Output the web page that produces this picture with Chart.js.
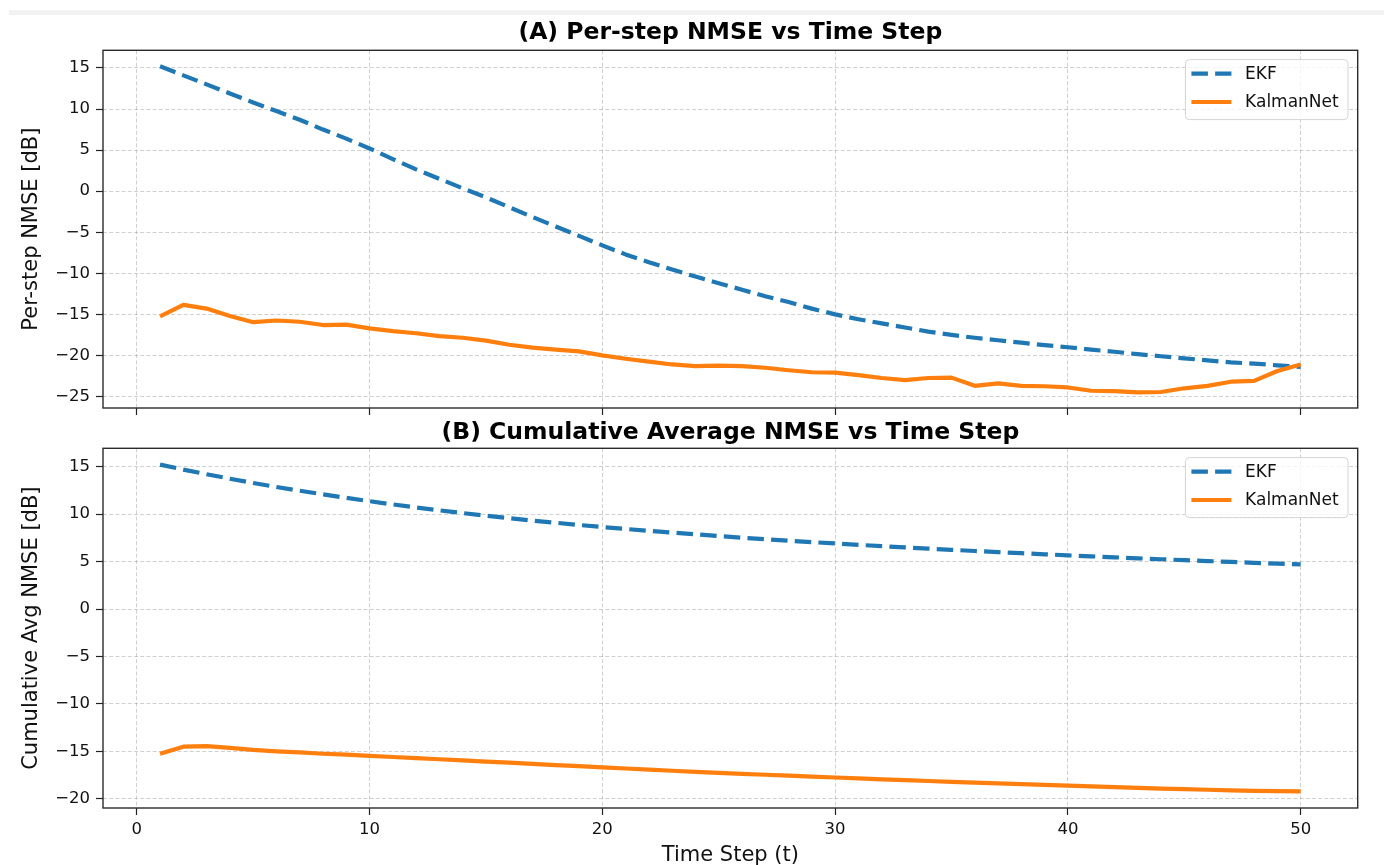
<!DOCTYPE html>
<html>
<head>
<meta charset="utf-8">
<title>NMSE vs Time Step</title>
<script src="https://cdn.jsdelivr.net/npm/chart.js@4.4.1/dist/chart.umd.min.js"></script>
<style>
    html, body { margin: 0; padding: 0; background: #fff; overflow: hidden; }
    body { width: 1384px; height: 865px; position: relative; }
    .faixa { position: absolute; left: 9px; right: 0; top: 10px; height: 5px; background: #f2f2f2; }
    .caixa { position: absolute; left: 0; width: 1384px; }
    #caixaA { top: 0; height: 428px; }
    #caixaB { top: 405px; height: 470px; }
</style>
</head>
<body>
<div class="faixa"></div>
<div class="caixa" id="caixaA"><canvas id="graficoA"></canvas></div>
<div class="caixa" id="caixaB"><canvas id="graficoB"></canvas></div>

<script>
// ==========================
// DADOS
// ==========================
const timeSteps = [
    1, 2, 3, 4, 5, 6, 7, 8, 9, 10,
    11, 12, 13, 14, 15, 16, 17, 18, 19, 20,
    21, 22, 23, 24, 25, 26, 27, 28, 29, 30,
    31, 32, 33, 34, 35, 36, 37, 38, 39, 40,
    41, 42, 43, 44, 45, 46, 47, 48, 49, 50
];

// (A) NMSE por passo [dB]
const ekfPerStep = [
    15.2, 14.1, 13.0, 11.9, 10.8, 9.75, 8.7, 7.5, 6.4, 5.2,
    3.9, 2.65, 1.5, 0.35, -0.75, -1.95, -3.15, -4.3, -5.45, -6.6,
    -7.7, -8.65, -9.55, -10.4, -11.2, -12.0, -12.8, -13.5, -14.3, -15.0,
    -15.6, -16.1, -16.6, -17.1, -17.5, -17.85, -18.15, -18.45, -18.75, -19.0,
    -19.3, -19.55, -19.85, -20.1, -20.35, -20.6, -20.85, -21.0, -21.2, -21.4
];
const kalmanPerStep = [
    -15.24, -13.85, -14.3, -15.2, -15.95, -15.75, -15.9, -16.3, -16.25, -16.7,
    -17.05, -17.3, -17.65, -17.85, -18.2, -18.7, -19.05, -19.3, -19.5, -20.0,
    -20.4, -20.75, -21.1, -21.3, -21.25, -21.3, -21.5, -21.8, -22.05, -22.1,
    -22.4, -22.75, -23.0, -22.75, -22.7, -23.7, -23.4, -23.7, -23.75, -23.9,
    -24.3, -24.35, -24.5, -24.45, -24.0, -23.7, -23.2, -23.1, -21.9, -21.1
];

// (B) NMSE médio acumulado [dB]
const ekfCumAvg = [
    15.2, 14.68, 14.19, 13.72, 13.27, 12.85, 12.45, 12.07, 11.70, 11.35,
    11.01, 10.69, 10.39, 10.10, 9.82, 9.56, 9.31, 9.08, 8.85, 8.63,
    8.43, 8.23, 8.04, 7.86, 7.68, 7.51, 7.35, 7.19, 7.04, 6.90,
    6.76, 6.62, 6.49, 6.36, 6.23, 6.11, 5.99, 5.88, 5.76, 5.65,
    5.55, 5.44, 5.34, 5.24, 5.14, 5.05, 4.96, 4.86, 4.78, 4.69
];
const kalmanCumAvg = [
    -15.24, -14.49, -14.43, -14.61, -14.84, -14.98, -15.10, -15.24, -15.34, -15.46,
    -15.58, -15.70, -15.82, -15.94, -16.06, -16.18, -16.31, -16.43, -16.55, -16.67,
    -16.79, -16.91, -17.03, -17.14, -17.25, -17.35, -17.45, -17.55, -17.65, -17.74,
    -17.84, -17.93, -18.02, -18.11, -18.19, -18.28, -18.36, -18.44, -18.52, -18.60,
    -18.67, -18.75, -18.83, -18.90, -18.97, -19.03, -19.09, -19.14, -19.18, -19.21
];

// ticks
const ticksX = [0, 10, 20, 30, 40, 50];
const ticksYA = [-25, -20, -15, -10, -5, 0, 5, 10, 15];
const ticksYB = [-20, -15, -10, -5, 0, 5, 10, 15];

const COR_EKF = '#1f77b4';
const COR_KALMAN = '#ff7f0e';
const COR_GRADE = 'rgba(150,150,150,0.45)';

Chart.defaults.font.family = '"DejaVu Sans", sans-serif';
Chart.defaults.color = '#111';

// moldura do eixo + legenda estilo matplotlib
const molduraLegenda = {
    id: 'molduraLegenda',
    afterDatasetsDraw(chart) {
        const ctx = chart.ctx;
        const area = chart.chartArea;

        ctx.save();
        ctx.strokeStyle = '#2b2b2b';
        ctx.lineWidth = 1.4;
        ctx.strokeRect(area.left, area.top, area.right - area.left, area.bottom - area.top);

        ctx.font = '17px "DejaVu Sans"';
        const larguraTexto = Math.max(...chart.data.datasets.map(d => ctx.measureText(d.label).width));
        const largura = 60 + larguraTexto + 9;
        const altura = 60;
        const x0 = area.right - 9.7 - largura;
        const y0 = area.top + 9.3;

        ctx.beginPath();
        ctx.roundRect(x0, y0, largura, altura, 4);
        ctx.fillStyle = 'rgba(255,255,255,0.8)';
        ctx.fill();
        ctx.strokeStyle = '#d4d4d4';
        ctx.lineWidth = 1;
        ctx.stroke();

        chart.data.datasets.forEach((ds, i) => {
            const y = y0 + 14 + i * 28.4;
            ctx.beginPath();
            ctx.setLineDash(ds.borderDash || []);
            ctx.strokeStyle = ds.borderColor;
            ctx.lineWidth = ds.borderWidth;
            ctx.moveTo(x0 + 6, y);
            ctx.lineTo(x0 + 46, y);
            ctx.stroke();
            ctx.setLineDash([]);
            ctx.fillStyle = '#111';
            ctx.textAlign = 'left';
            ctx.textBaseline = 'middle';
            ctx.fillText(ds.label, x0 + 59.7, y + 1);
        });
        ctx.restore();
    }
};

function rotuloMenos(valor) {
    return valor < 0 ? '\u2212' + Math.abs(valor) : String(valor);
}

function criarGrafico(idCanvas, cfg) {
    const ctx = document.getElementById(idCanvas);

    return new Chart(ctx, {
        type: 'line',
        data: {
            datasets: [{
                label: 'EKF',
                data: timeSteps.map((t, i) => ({ x: t, y: cfg.ekf[i] })),
                borderColor: COR_EKF,
                borderWidth: 4.2,
                borderDash: [16.5, 7.2],
                borderJoinStyle: 'round',
                pointRadius: 0,
                tension: 0,
                fill: false,
                order: 2
            }, {
                label: 'KalmanNet',
                data: timeSteps.map((t, i) => ({ x: t, y: cfg.kalman[i] })),
                borderColor: COR_KALMAN,
                borderWidth: 4.2,
                borderJoinStyle: 'round',
                pointRadius: 0,
                tension: 0,
                fill: false,
                order: 1
            }]
        },
        options: {
            responsive: true,
            maintainAspectRatio: false,
            animation: false,
            events: [],
            layout: { padding: { top: cfg.padTopo, left: 0, right: 26.3, bottom: 0 } },
            plugins: {
                legend: { display: false },
                tooltip: { enabled: false },
                title: {
                    display: true,
                    text: cfg.titulo,
                    fullSize: false,
                    color: '#000',
                    font: { size: 23.5, weight: 'bold' },
                    padding: cfg.padTitulo
                }
            },
            scales: {
                x: {
                    type: 'linear',
                    min: -1.45,
                    max: 52.45,
                    afterBuildTicks: (eixo) => { eixo.ticks = ticksX.map(v => ({ value: v })); },
                    afterFit: (eixo) => { eixo.height = cfg.alturaX; },
                    grid: { color: COR_GRADE, lineWidth: 1, tickLength: 7, tickColor: '#222', tickWidth: 1.2 },
                    border: { display: false, dash: [4, 2.2] },
                    ticks: {
                        display: cfg.mostrarX,
                        padding: 5,
                        color: '#111',
                        font: { size: 16.5 },
                        maxRotation: 0,
                        autoSkip: false,
                        callback: (v) => rotuloMenos(v)
                    },
                    title: {
                        display: cfg.mostrarX,
                        text: 'Time Step (t)',
                        color: '#111',
                        font: { size: 21 },
                        padding: { top: 0, bottom: 7 }
                    }
                },
                y: {
                    type: 'linear',
                    min: cfg.yMin,
                    max: cfg.yMax,
                    afterBuildTicks: (eixo) => { eixo.ticks = cfg.ticksY.map(v => ({ value: v })); },
                    afterFit: (eixo) => { eixo.width = 103; },
                    grid: { color: COR_GRADE, lineWidth: 1, tickLength: 7, tickColor: '#222', tickWidth: 1.2 },
                    border: { display: false, dash: [4, 2.2] },
                    ticks: {
                        padding: 6,
                        color: '#111',
                        font: { size: 16.5 },
                        autoSkip: false,
                        callback: (v) => rotuloMenos(v)
                    },
                    title: {
                        display: true,
                        text: cfg.rotuloY,
                        color: '#111',
                        font: { size: 21 },
                        padding: { top: 19, bottom: 0 }
                    }
                }
            }
        },
        plugins: [molduraLegenda]
    });
}

// ==========================
// (A) NMSE POR PASSO
// ==========================
criarGrafico('graficoA', {
    titulo: '(A) Per-step NMSE vs Time Step',
    rotuloY: 'Per-step NMSE [dB]',
    ekf: ekfPerStep,
    kalman: kalmanPerStep,
    ticksY: ticksYA,
    yMin: -26.4,
    yMax: 17.15,
    padTopo: 10,
    padTitulo: { top: 8.4, bottom: 3.7 },
    alturaX: 20,
    mostrarX: false
});

// ==========================
// (B) MÉDIA ACUMULADA
// ==========================
criarGrafico('graficoB', {
    titulo: '(B) Cumulative Average NMSE vs Time Step',
    rotuloY: 'Cumulative Avg NMSE [dB]',
    ekf: ekfCumAvg,
    kalman: kalmanCumAvg,
    ticksY: ticksYB,
    yMin: -20.95,
    yMax: 16.92,
    padTopo: 0,
    padTitulo: { top: 13.4, bottom: 1.7 },
    alturaX: 67,
    mostrarX: true
});
</script>
</body>
</html>
